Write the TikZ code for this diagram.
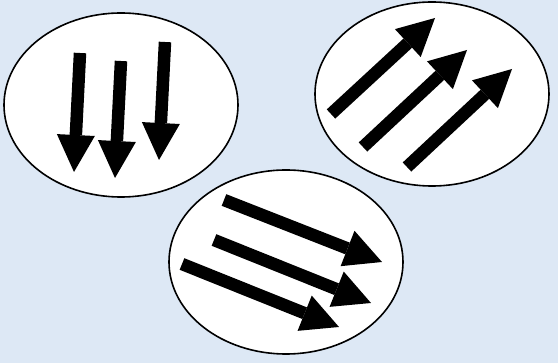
\documentclass[tikz,border=0pt]{standalone}
\usetikzlibrary{arrows.meta,shapes.geometric}
\definecolor{achtergrond}{RGB}{221,232,245}

\begin{document}
\begin{tikzpicture}[x=1pt,y=-1pt]

% --- Stijldefinities ---
\tikzset{
    ovaal/.style={
        ellipse,
        draw=black,
        fill=white,
        line width=1.6pt,
        minimum width=234pt,
        minimum height=184pt,
        inner sep=0pt
    },
    pijl/.style={
        draw=black,
        line width=12.5pt,
        -{Triangle[length=37pt,width=38pt,line width=0pt]}
    }
}

% --- Achtergrond ---
\fill[achtergrond] (0,0) rectangle (558,363);
\useasboundingbox (0,0) rectangle (558,363);

% --- Ovalen ---
\node[ovaal] (links)  at (121,105) {};
\node[ovaal] (rechts) at (432,94)  {};

% Pijlen naar beneden (links)
\coordinate (a1) at (80,53);   \coordinate (b1) at (74,172);
\coordinate (a2) at (121,61);  \coordinate (b2) at (115,178);
\coordinate (a3) at (165,42);  \coordinate (b3) at (159,160);
\draw[pijl] (a1) -- (b1);
\draw[pijl] (a2) -- (b2);
\draw[pijl] (a3) -- (b3);

% Pijlen schuin omhoog (rechts)
\coordinate (c1) at (331,114); \coordinate (d1) at (435,18);
\coordinate (c2) at (363,147); \coordinate (d2) at (467,50);
\coordinate (c3) at (407,167); \coordinate (d3) at (512,69);
\draw[pijl] (c1) -- (d1);
\draw[pijl] (c2) -- (d2);
\draw[pijl] (c3) -- (d3);

% Onderste ovaal (ligt bovenop)
\node[ovaal] (onder) at (286,262) {};

% Pijlen schuin naar rechts (onder)
\coordinate (e1) at (224,200); \coordinate (f1) at (382,262);
\coordinate (e2) at (214,240); \coordinate (f2) at (371,303);
\coordinate (e3) at (182,264); \coordinate (f3) at (339,327);
\draw[pijl] (e1) -- (f1);
\draw[pijl] (e2) -- (f2);
\draw[pijl] (e3) -- (f3);

\end{tikzpicture}
\end{document}
